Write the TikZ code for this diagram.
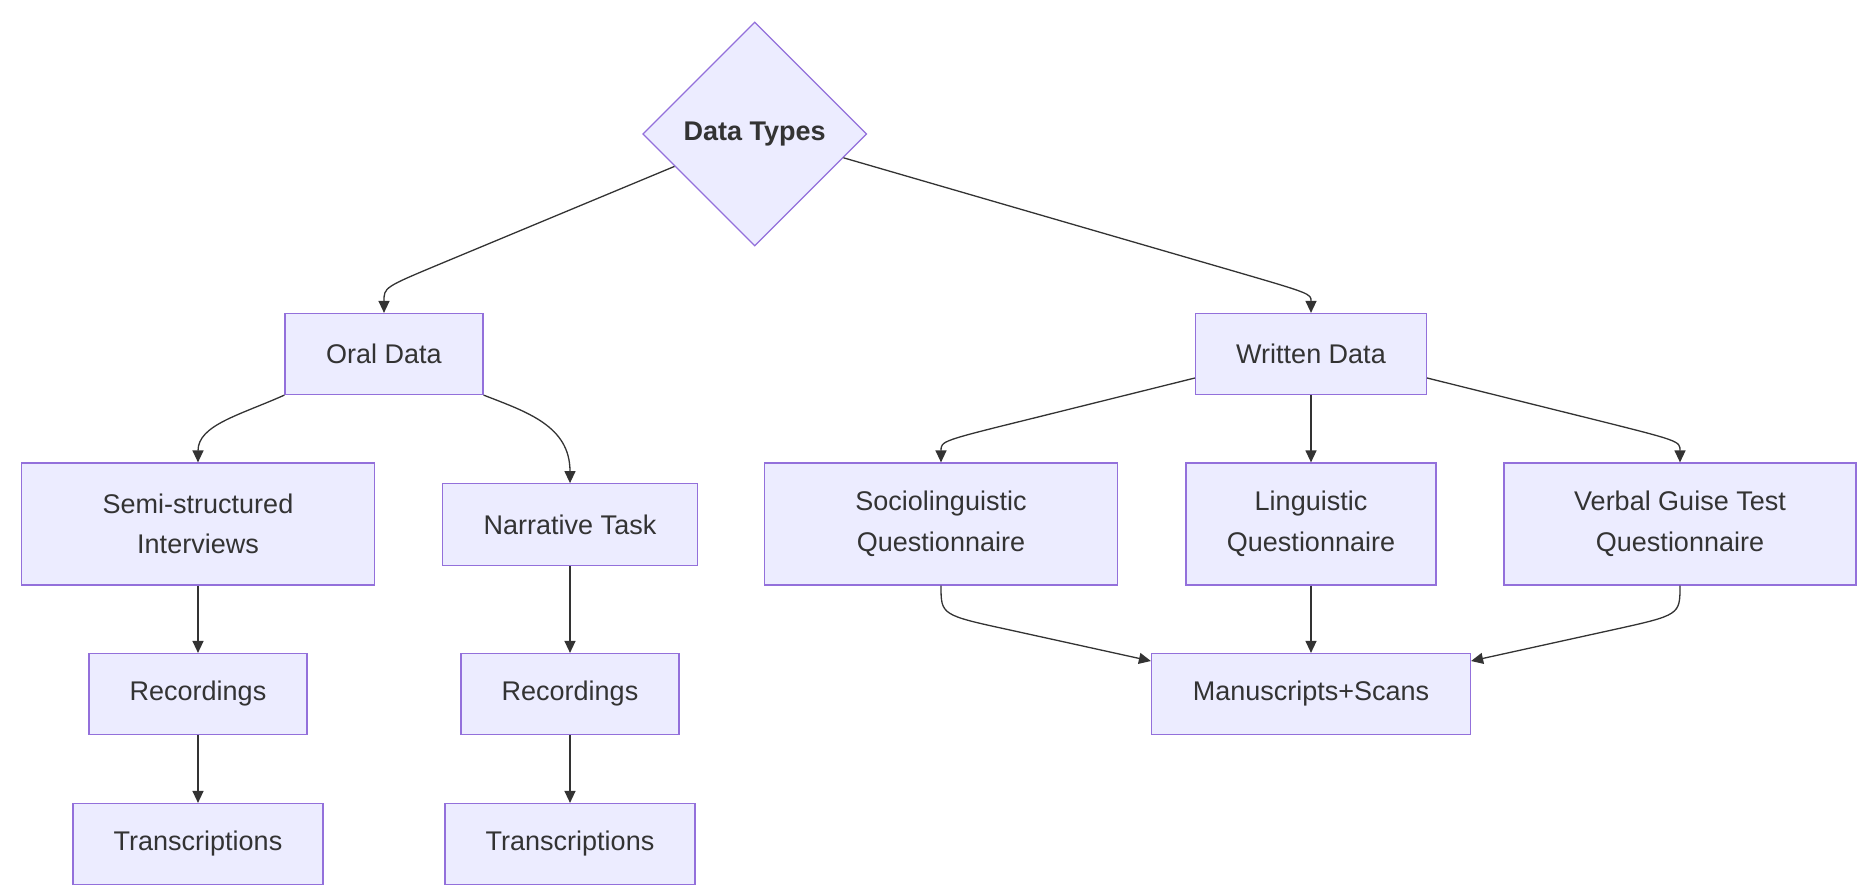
\documentclass[tikz,border=0pt]{standalone}
\usepackage{fontspec}
\setmainfont{Liberation Sans}
\usetikzlibrary{
	arrows.meta,
	positioning,
	shapes.geometric
}
\definecolor{boxfill}{HTML}{ECECFF}
\definecolor{boxline}{HTML}{9370DB}
\definecolor{ink}{HTML}{333333}

\begin{document}
\begin{tikzpicture}[
		x=1pt, y=-1pt,
		>={Triangle[length=12pt,width=11pt]},
		box/.style={
			draw=boxline,
			fill=boxfill,
			line width=1.2pt,
			text=ink,
			align=center,
			inner sep=0pt,
			minimum height=81pt,
			font=\fontsize{27}{40.5}\selectfont
		},
		tall/.style={
			box,
			minimum height=122pt
		},
		choice/.style={
			diamond,
			draw=boxline,
			fill=boxfill,
			line width=1.2pt,
			text=ink,
			inner sep=0pt,
			minimum width=224pt,
			minimum height=224pt,
			font=\fontsize{27}{40.5}\selectfont\bfseries
		},
		link/.style={
			->,
			draw=ink,
			line width=1.3pt
		}
		]
		
		\useasboundingbox (0,0) rectangle (1868,895);
		
		% Root
		\node[choice] (types) at (754.7,134) {Data Types};
		
		% Second level
		\node[box, minimum width=198pt] (oral) at (384,354) {Oral Data};
		\node[box, minimum width=231pt] (written) at (1311,354) {Written Data};
		
		% Oral side
		\node[tall, minimum width=353pt] (semi) at (198,524) {Semi-structured\\Interviews};
		\node[box, minimum width=255pt, minimum height=82pt] (narrative) at (570,524.7) {Narrative Task};
		\node[box, minimum width=218pt] (semirec) at (198,694) {Recordings};
		\node[box, minimum width=218pt] (narrrec) at (570,694) {Recordings};
		\node[box, minimum width=250pt] (semitrans) at (198,844) {Transcriptions};
		\node[box, minimum width=250pt] (narrtrans) at (570,844) {Transcriptions};
		
		% Written side
		\node[tall, minimum width=353pt] (socio) at (941,524) {Sociolinguistic\\Questionnaire};
		\node[tall, minimum width=250pt] (ling) at (1311,524) {Linguistic\\Questionnaire};
		\node[tall, minimum width=352pt] (verbal) at (1680,524) {Verbal Guise Test\\Questionnaire};
		\node[box, minimum width=319pt] (scans) at (1311,694) {Manuscripts+Scans};
		
		% Connections from the root
		\draw[link] (types.202) -- (440,264) .. controls (384,287.4) .. (oral.north);
		\draw[link] (types.-15) -- (1230,270) .. controls (1311,293.6) .. (written.north);
		
		% Oral data
		\draw[link] (oral.south west) .. controls (240,415) and (198,425) .. (semi.north);
		\draw[link] (oral.south east) .. controls (527,412) and (570,426) .. (narrative.north);
		\draw[link] (semi.south) -- (semirec.north);
		\draw[link] (semirec.south) -- (semitrans.north);
		\draw[link] (narrative.south) -- (narrrec.north);
		\draw[link] (narrrec.south) -- (narrtrans.north);
		
		% Written data
		\draw[link] ([yshift=-24pt]written.west) -- (1030,419) .. controls (941,441) .. (socio.north);
		\draw[link] (written.south) -- (ling.north);
		\draw[link] ([yshift=-24pt]written.east) -- (1592,419) .. controls (1680,441) .. (verbal.north);
		
		% Into the scans
		\draw[link] (socio.south) .. controls (941,615) .. (1010,630) -- ([yshift=33pt]scans.west);
		\draw[link] (ling.south) -- (scans.north);
		\draw[link] (verbal.south) .. controls (1680,615) .. (1612,630) -- ([yshift=33pt]scans.east);
		
	\end{tikzpicture}
\end{document}
